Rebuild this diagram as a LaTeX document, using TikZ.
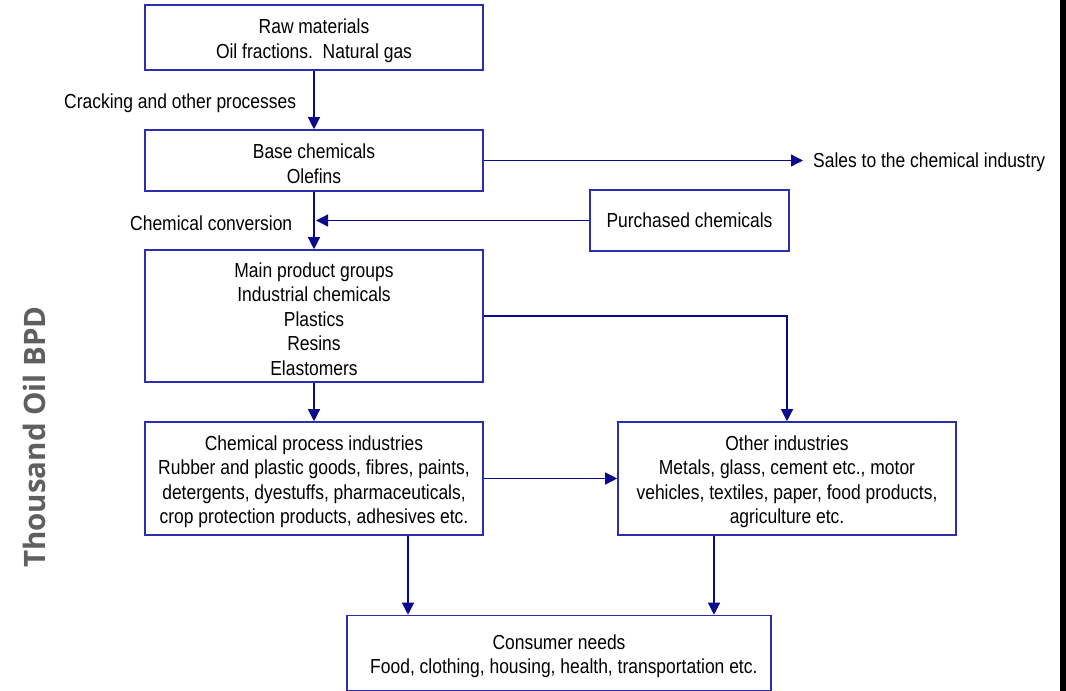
\documentclass[tikz,border=0pt]{standalone}
\usepackage{fontspec}
\setmainfont{Liberation Sans}[FakeStretch=0.86]
\newfontfamily\sidefont{Open Sans}
\usetikzlibrary{arrows.meta}

\definecolor{boxblue}{RGB}{45,45,175}
\definecolor{tipblue}{RGB}{10,10,140}
\definecolor{sidegray}{RGB}{95,95,95}

% extra room above the first line of a box
\newcommand\topgap{\rule{0pt}{21pt}}

\tikzset{
  box/.style={draw=boxblue, line width=1.6pt, minimum width=338pt, align=center,
    inner sep=0pt, font=\fontsize{20.3}{24.5}\selectfont},
  lbl/.style={font=\fontsize{20.3}{24.5}\selectfont, inner sep=0pt},
  arr/.style={draw=tipblue, line width=1.3pt, -{Triangle[length=12pt,width=12pt]}},
}

\begin{document}
\begin{tikzpicture}[x=1pt,y=-1pt]
			\useasboundingbox (0,0) rectangle (1066,691);

			% boxes
			\node[box, minimum height=65pt] (raw) at (314,37.5) {\topgap Raw materials\\Oil fractions.\ \ Natural gas};
			\node[box, minimum height=61pt] (base) at (314,160.5) {\topgap Base chemicals\\Olefins};
			\node[box, minimum width=199pt, minimum height=61pt] (purch) at (689.5,220.5) {Purchased chemicals};
			\node[box, minimum height=132pt] (main) at (314,316) {\topgap Main product groups\\Industrial chemicals\\Plastics\\Resins\\Elastomers};
			\node[box, minimum height=113pt] (chem) at (314,478.5) {\topgap Chemical process industries\\Rubber and plastic goods, fibres, paints,\\detergents, dyestuffs, pharmaceuticals,\\crop protection products, adhesives etc.};
			\node[box, minimum height=113pt] (other) at (787,478.5) {\topgap Other industries\\Metals, glass, cement etc., motor\\vehicles, textiles, paper, food products,\\agriculture etc.};
			\node[box, minimum width=424pt, minimum height=75pt] (cons) at (559,653) {\topgap Consumer needs\\\ \ Food, clothing, housing, health, transportation etc.};

			% free labels
			\node[lbl, anchor=west] (crack) at (64,103) {Cracking and other processes};
			\node[lbl, anchor=west] (conv) at (130,223) {Chemical conversion};
			\node[lbl, anchor=west] (sales) at (813,162) {Sales to the chemical industry};
			\node[rotate=90, text=sidegray, font=\sidefont\bfseries\fontsize{29.5}{34}\selectfont] (side) at (34,437) {Thousand Oil BPD};

			% connectors
			\coordinate (cpx) at (408,0);
			\coordinate (opx) at (714,0);
			\draw[arr] (raw) -- (base);
			\draw[arr] (base) -- (main);
			\draw[arr] (base.east) -- ([xshift=-10pt]base.east -| sales.west);
			\draw[arr] (purch.west) -- ([xshift=2pt]base.south |- purch.west);
			\draw[arr] (main.east) -| (other.north);
			\draw[arr] (main) -- (chem);
			\draw[arr] (chem.east) -- (other.west);
			\draw[arr] (chem.south -| cpx) -- (cons.north -| cpx);
			\draw[arr] (other.south -| opx) -- (cons.north -| opx);

			% right edge bar
			\fill[black] (1060,0) rectangle (1066,691);
		\end{tikzpicture}
\end{document}
